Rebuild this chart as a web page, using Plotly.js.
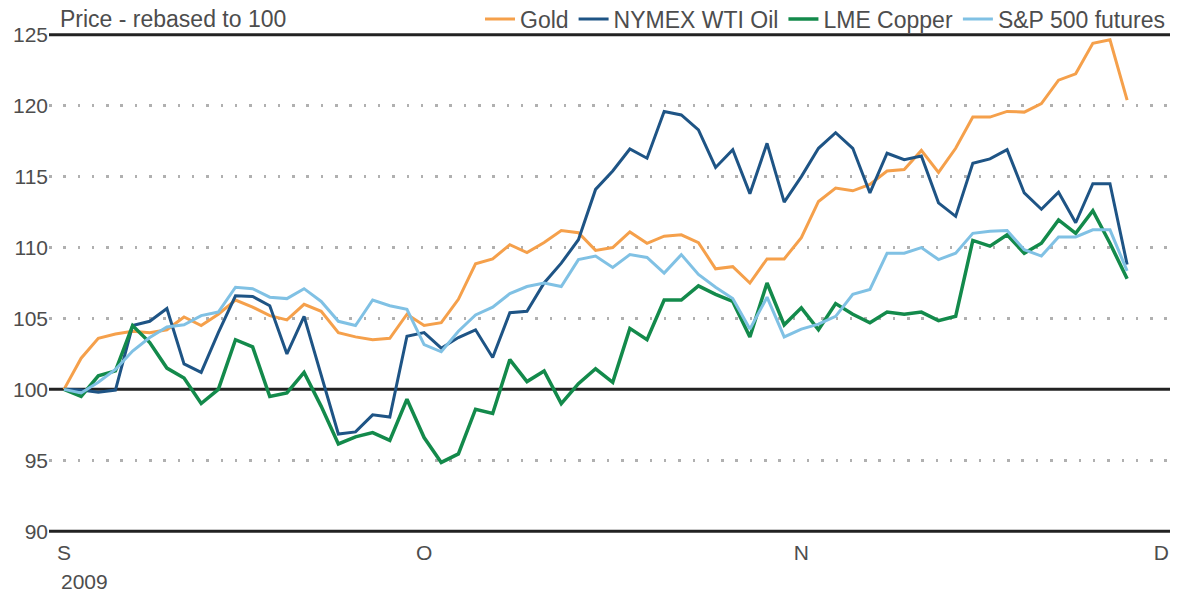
<!DOCTYPE html>
<html>
<head>
<meta charset="utf-8">
<script src="https://cdn.plot.ly/plotly-3.0.1.min.js"></script>
<style>
  html, body { margin: 0; padding: 0; background: #fff; }
  #chart { width: 1177px; height: 593px; }
</style>
</head>
<body>
<div id="chart"></div>
<script>
// trading days, 1 Sep - 27 Nov 2009 (Labor Day off)
let dates = [
    '2009-09-01','2009-09-02','2009-09-03','2009-09-04',
    '2009-09-08','2009-09-09','2009-09-10','2009-09-11',
    '2009-09-14','2009-09-15','2009-09-16','2009-09-17','2009-09-18',
    '2009-09-21','2009-09-22','2009-09-23','2009-09-24','2009-09-25',
    '2009-09-28','2009-09-29','2009-09-30',
    '2009-10-01','2009-10-02',
    '2009-10-05','2009-10-06','2009-10-07','2009-10-08','2009-10-09',
    '2009-10-12','2009-10-13','2009-10-14','2009-10-15','2009-10-16',
    '2009-10-19','2009-10-20','2009-10-21','2009-10-22','2009-10-23',
    '2009-10-26','2009-10-27','2009-10-28','2009-10-29','2009-10-30',
    '2009-11-02','2009-11-03','2009-11-04','2009-11-05','2009-11-06',
    '2009-11-09','2009-11-10','2009-11-11','2009-11-12','2009-11-13',
    '2009-11-16','2009-11-17','2009-11-18','2009-11-19','2009-11-20',
    '2009-11-23','2009-11-24','2009-11-25','2009-11-26','2009-11-27'
];

let gold = [
    100, 102.2, 103.6, 103.9, 104.1, 104.0, 104.2, 105.1, 104.5, 105.3,
    106.3, 105.8, 105.2, 104.9, 106.0, 105.5, 104.0, 103.7, 103.5, 103.6,
    105.3, 104.5, 104.7, 106.35, 108.85, 109.2, 110.2, 109.65, 110.35, 111.2,
    111.05, 109.8, 110.0, 111.1, 110.3, 110.8, 110.9, 110.35, 108.5, 108.65,
    107.5, 109.2, 109.2, 110.7, 113.25, 114.2, 114.0, 114.45, 115.4, 115.5,
    116.85, 115.3, 117.0, 119.2, 119.2, 119.6, 119.55, 120.15, 121.8, 122.25,
    124.4, 124.65, 120.4
];

let oil = [
    100, 99.95, 99.8, 99.95, 104.5, 104.8, 105.7, 101.8, 101.2, 104.0,
    106.6, 106.55, 105.9, 102.5, 105.15, 101.0, 96.85, 97.0, 98.2, 98.05,
    103.75, 104.0, 102.9, 103.65, 104.2, 102.25, 105.4, 105.5, 107.5, 108.9,
    110.55, 114.1, 115.4, 116.95, 116.3, 119.6, 119.35, 118.3, 115.65, 116.9,
    113.8, 117.35, 113.2, 115.0, 117.0, 118.1, 117.0, 113.85, 116.65, 116.2,
    116.45, 113.15, 112.2, 115.95, 116.25, 116.9, 113.85, 112.7, 113.9, 111.75,
    114.5, 114.5, 108.8
];

let copper = [
    100, 99.5, 100.95, 101.3, 104.5, 103.3, 101.5, 100.8, 99.0, 100.0,
    103.5, 103.0, 99.5, 99.75, 101.2, 98.8, 96.15, 96.65, 96.95, 96.4,
    99.3, 96.6, 94.85, 95.45, 98.6, 98.3, 102.1, 100.55, 101.3, 99.0,
    100.4, 101.45, 100.5, 104.3, 103.5, 106.3, 106.3, 107.3, 106.7, 106.2,
    103.7, 107.5, 104.55, 105.75, 104.2, 106.05, 105.3, 104.7, 105.45, 105.3,
    105.45, 104.85, 105.15, 110.5, 110.1, 110.9, 109.6, 110.3, 111.95, 111.0,
    112.6, 110.3, 107.8
];

let spx = [
    100, 99.75, 100.5, 101.4, 102.7, 103.65, 104.4, 104.55, 105.2, 105.45,
    107.2, 107.1, 106.5, 106.4, 107.1, 106.2, 104.8, 104.5, 106.3, 105.9,
    105.65, 103.15, 102.65, 104.1, 105.25, 105.8, 106.75, 107.25, 107.5, 107.25,
    109.15, 109.4, 108.6, 109.5, 109.3, 108.2, 109.5, 108.1, 107.2, 106.4,
    104.25, 106.5, 103.7, 104.25, 104.6, 105.15, 106.7, 107.05, 109.6, 109.6,
    110.0, 109.15, 109.6, 111.0, 111.15, 111.2, 109.85, 109.4, 110.75, 110.75,
    111.25, 111.25, 108.35
];

let seriesNames = ['Gold', 'NYMEX WTI Oil', 'LME Copper', 'S&P 500 futures'];
let seriesColors = ['#f5a04b', '#1e5485', '#138a4b', '#80c1e4'];
let seriesWidths = [3, 3, 3.5, 3];

// month labels sit on the first trading day of each month
let monthTicks = [0, 21, 43, 64];
let monthLabels = ['S', 'O', 'N', 'D'];
let yTicks = [90, 95, 100, 105, 110, 115, 120, 125];
let dottedTicks = [95, 105, 110, 115, 120];   // solid black at 90, 100, 125

let xIdx = [];
for (let i = 0; i < dates.length; i++) {
    xIdx.push(i);
}

let allSeries = [gold, oil, copper, spx];
let data = [];
for (let s = 0; s < allSeries.length; s++) {
    data.push({
        x: xIdx,
        y: allSeries[s],
        text: dates,
        name: seriesNames[s],
        type: 'scatter',
        mode: 'lines',
        line: {color: seriesColors[s], width: seriesWidths[s]},
        hovertemplate: '%{text}: %{y}<extra>' + seriesNames[s] + '</extra>'
    });
}

let font = {family: 'Liberation Sans, Arial, sans-serif', size: 21, color: '#4d4d4d'};
let bigFont = {family: 'Liberation Sans, Arial, sans-serif', size: 23, color: '#4d4d4d'};

function blackLine(v) {
    return {
        type: 'line', xref: 'paper', yref: 'y',
        x0: 0, x1: 1, y0: v, y1: v,
        line: {color: '#222', width: 3},
        layer: 'below'
    };
}

let layout = {
    width: 1177,
    height: 593,
    margin: {l: 49, r: 7, t: 32, b: 59, autoexpand: false},
    paper_bgcolor: '#fff',
    plot_bgcolor: '#fff',
    font: font,
    showlegend: true,
    title: {
        text: 'Price - rebased to 100',
        font: bigFont,
        x: 60 / 1177, xanchor: 'left',
        y: 1 - 19 / 593, yanchor: 'middle'
    },
    legend: {
        orientation: 'h',
        x: 1, xanchor: 'right',
        y: 1.026, yanchor: 'middle',
        font: bigFont,
        bgcolor: 'rgba(0,0,0,0)',
        itemwidth: 30
    },
    xaxis: {
        range: [-0.875, 64.5],
        tickmode: 'array',
        tickvals: monthTicks,
        ticktext: monthLabels,
        showgrid: false,
        zeroline: false,
        showline: false,
        ticks: '',
        ticklabelstandoff: 4,
        tickfont: font,
        fixedrange: true
    },
    yaxis: {
        range: [89.8, 125.2],
        tickmode: 'array',
        tickvals: yTicks,
        showgrid: false,
        minor: {
            tickmode: 'array',
            tickvals: dottedTicks,
            ticks: '',
            showgrid: true,
            gridcolor: '#b0b0b0',
            gridwidth: 2.5,
            griddash: '2.5px,11.8px'
        },
        zeroline: false,
        showline: false,
        ticks: '',
        tickfont: font,
        fixedrange: true
    },
    shapes: [blackLine(125), blackLine(100), blackLine(90)],
    annotations: [{
        text: '2009',
        xref: 'x', yref: 'paper',
        x: -0.3, y: -0.094,
        xanchor: 'left', yanchor: 'middle',
        showarrow: false,
        font: font
    }]
};

let config = {responsive: false, displayModeBar: false};

Plotly.newPlot('chart', data, layout, config);
</script>
</body>
</html>
